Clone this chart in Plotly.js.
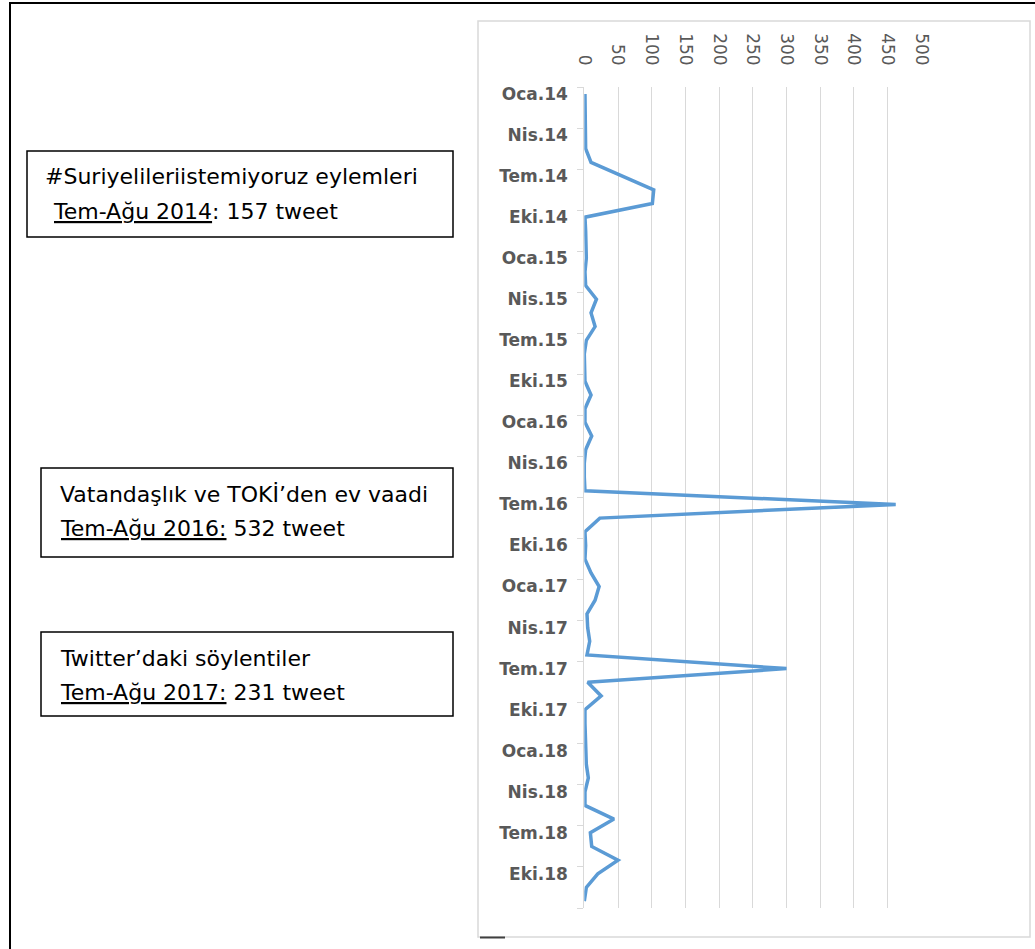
<!DOCTYPE html>
<html>
<head>
<meta charset="utf-8">
<script src="https://cdn.plot.ly/plotly-3.0.1.min.js"></script>
<style>
html,body{margin:0;padding:0;background:#ffffff;}
#chart{width:1035px;height:949px;}
</style>
</head>
<body>
<div id="chart"></div>
<script>
// Turkish month abbreviations and years (categories)
const monthNames = ["Oca","Şub","Mar","Nis","May","Haz","Tem","Ağu","Eyl","Eki","Kas","Ara"];
const yearSuffixes = ["14","15","16","17","18"];

// Monthly tweet counts
const tweets2014 = [1, 1, 1, 1, 2, 10, 56, 103, 101, 1, 2, 3];
const tweets2015 = [3, 1, 2, 18, 10, 16, 3, 0, 0, 1, 10, 1];
const tweets2016 = [1, 11, 2, 0, 0, 1, 462, 23, 1, 2, 1, 10];
const tweets2017 = [22, 16, 4, 5, 8, 4, 300, 5, 25, 1, 1, 2];
const tweets2018 = [2, 3, 6, 1, 1, 44, 9, 11, 50, 20, 3, 0];

// Axis tick labels
const monthTickLabels = ["Oca.14","Nis.14","Tem.14","Eki.14","Oca.15","Nis.15","Tem.15","Eki.15",
  "Oca.16","Nis.16","Tem.16","Eki.16","Oca.17","Nis.17","Tem.17","Eki.17",
  "Oca.18","Nis.18","Tem.18","Eki.18"];
const valueTicks = [0, 50, 100, 150, 200, 250, 300, 350, 400, 450, 500];

// Annotation texts
const note1 = ["#Suriyelileriistemiyoruz eylemleri", "<u>Tem-Ağu 2014</u>: 157 tweet"];
const note2 = ["Vatandaşlık ve TOKİ’den ev vaadi", "<u>Tem-Ağu 2016:</u> 532 tweet"];
const note3 = ["Twitter’daki söylentiler", "<u>Tem-Ağu 2017:</u> 231 tweet"];

const months = [];
yearSuffixes.forEach(y => monthNames.forEach(m => months.push(m + "." + y)));
const tweets = [].concat(tweets2014, tweets2015, tweets2016, tweets2017, tweets2018);
const monthIndex = months.map((m, i) => i);

const W = 1035, H = 949;
const px = x => x / W;
const py = y => 1 - y / H;

const trace = {
  type: "scatter",
  mode: "lines",
  x: tweets,
  y: monthIndex,
  text: months,
  line: {color: "#5b9bd5", width: 3.5},
  cliponaxis: false,
  hoverinfo: "text+x"
};

const tickFontY = {family: "DejaVu Sans", size: 17, color: "#595959", weight: "bold"};
const tickFontX = {family: "DejaVu Sans", size: 17, color: "#595959"};
const noteFont = {family: "DejaVu Sans", size: 22, color: "#000000"};

function note(text, x, y) {
  return {text: text, xref: "paper", yref: "paper", x: px(x), y: py(y),
    xanchor: "left", yanchor: "middle", showarrow: false, font: noteFont, align: "left"};
}

const layout = {
  width: W, height: H,
  margin: {l: 0, r: 0, t: 0, b: 0},
  paper_bgcolor: "#ffffff",
  plot_bgcolor: "#ffffff",
  showlegend: false,
  xaxis: {
    side: "top",
    domain: [px(584.3), px(921.3)],
    range: [0, 500],
    tickmode: "array",
    tickvals: valueTicks,
    ticktext: valueTicks.map(String),
    tickangle: 90,
    tickfont: tickFontX,
    ticks: "",
    ticklabelstandoff: 18,
    showgrid: true,
    gridcolor: "#d9d9d9",
    gridwidth: 1,
    zeroline: false,
    showline: false,
    fixedrange: true
  },
  yaxis: {
    domain: [py(908), py(87.2)],
    range: [months.length - 0.5, -0.5],
    tickmode: "array",
    tickvals: monthTickLabels.map(l => months.indexOf(l)),
    ticktext: monthTickLabels,
    tickfont: tickFontY,
    ticks: "",
    ticklabelstandoff: 12,
    minor: {tick0: -0.5, dtick: 3, ticks: "outside", ticklen: 6, tickcolor: "#d9d9d9", tickwidth: 1, showgrid: false},
    showgrid: false,
    zeroline: false,
    showline: true,
    linecolor: "#d9d9d9",
    linewidth: 1,
    fixedrange: true
  },
  shapes: [
    // outer frame
    {type: "rect", xref: "paper", yref: "paper", x0: px(10), x1: 1.05, y0: -0.05, y1: py(3),
     line: {color: "#000000", width: 2}, fillcolor: "rgba(0,0,0,0)", layer: "below"},
    // chart area border
    {type: "rect", xref: "paper", yref: "paper", x0: px(478), x1: px(1030), y0: py(937), y1: py(21),
     line: {color: "#d9d9d9", width: 1.5}, fillcolor: "rgba(0,0,0,0)", layer: "below"},
    // small dark dash at bottom
    {type: "line", xref: "paper", yref: "paper", x0: px(480), x1: px(505), y0: py(937.5), y1: py(937.5),
     line: {color: "#404040", width: 2}},
    // annotation boxes
    {type: "rect", xref: "paper", yref: "paper", x0: px(27), x1: px(453), y0: py(237), y1: py(151),
     line: {color: "#000000", width: 1.5}, fillcolor: "rgba(0,0,0,0)"},
    {type: "rect", xref: "paper", yref: "paper", x0: px(41), x1: px(453), y0: py(557), y1: py(468),
     line: {color: "#000000", width: 1.5}, fillcolor: "rgba(0,0,0,0)"},
    {type: "rect", xref: "paper", yref: "paper", x0: px(41), x1: px(453), y0: py(716), y1: py(632),
     line: {color: "#000000", width: 1.5}, fillcolor: "rgba(0,0,0,0)"}
  ],
  annotations: [
    note(note1[0], 43, 177),
    note(note1[1], 51, 212),
    note(note2[0], 58, 494),
    note(note2[1], 58, 528),
    note(note3[0], 58, 658),
    note(note3[1], 58, 692)
  ]
};

Plotly.newPlot("chart", [trace], layout, {displayModeBar: false, staticPlot: true});
</script>
</body>
</html>
